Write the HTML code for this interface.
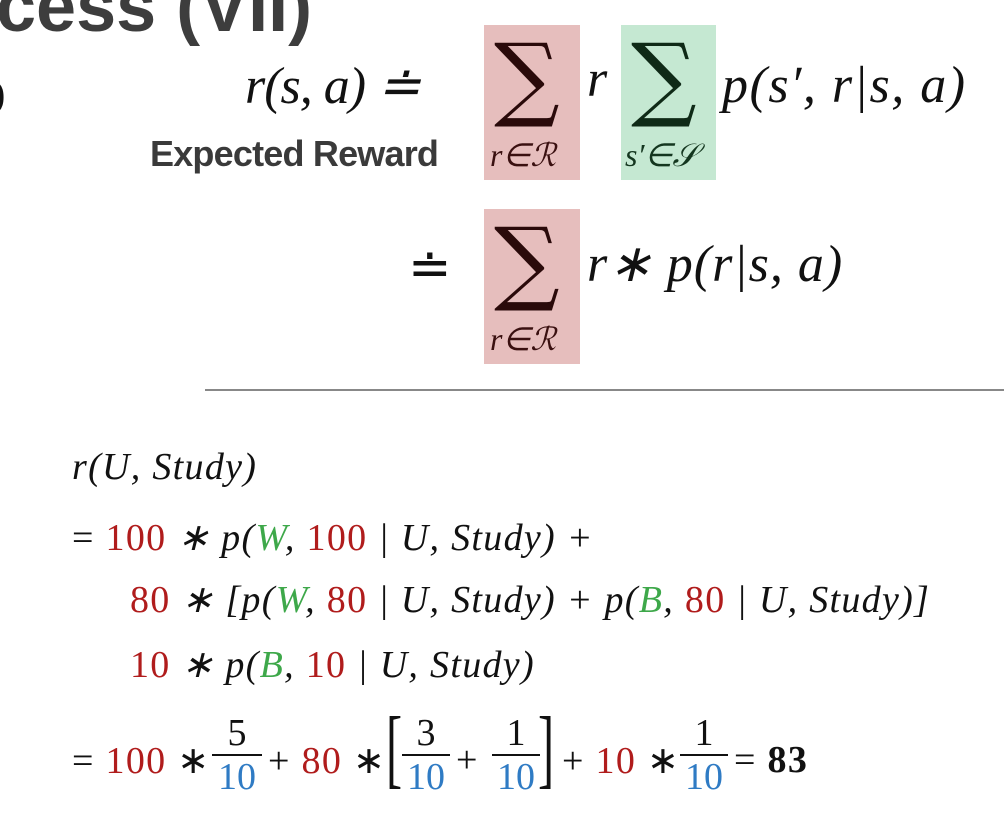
<!DOCTYPE html>
<html><head><meta charset="utf-8"><style>
body{margin:0;width:1004px;height:840px;background:#fff;position:relative;overflow:hidden;font-family:"Liberation Serif",serif;color:#111}
.a{position:absolute;white-space:nowrap}
.m{font-style:italic}
.r{color:#b01c1c;font-style:normal}
.g{color:#3ea84a}
.b{color:#2f7bc4;font-style:normal}
.box{position:absolute}
.sig{position:absolute;font-size:92px;line-height:1;font-family:"DejaVu Serif",serif;color:#2a0a0a}
.frac{position:absolute;text-align:center;font-size:38px;font-style:normal}
.frac .n{display:block;border-bottom:2px solid #111;padding:0 2px;line-height:42px}
.frac .d{display:block;line-height:42px}
.bl{letter-spacing:1.3px;font-size:38px}
</style></head><body>
<div class="a" style="left:-4px;top:-34px;font-family:'Liberation Sans',sans-serif;font-weight:bold;font-size:72px;color:#3d3d3d">cess (VII)</div>
<div class="a" style="left:-8px;top:70px;font-size:40px">)</div>

<div class="box" style="left:484px;top:25px;width:96px;height:155px;background:#e6bebd"></div>
<div class="box" style="left:621px;top:25px;width:95px;height:155px;background:#c5e8d2"></div>
<div class="box" style="left:484px;top:209px;width:96px;height:155px;background:#e6bebd"></div>

<div class="sig" style="left:494px;top:32px">∑</div>
<div class="sig" style="left:631px;top:32px;color:#0f2a17">∑</div>
<div class="sig" style="left:494px;top:216px">∑</div>

<div class="a m" style="left:245px;top:56px;font-size:52px;letter-spacing:-1px">r(s, a) ≐</div>
<div class="a m" style="left:587px;top:50px;font-size:52px">r</div>
<div class="a m" style="left:722px;top:56px;font-size:52px;letter-spacing:1.5px">p(s′, r|s, a)</div>
<div class="a" style="left:150px;top:133px;font-family:'Liberation Sans',sans-serif;font-weight:bold;font-size:36px;color:#3a3a3a;letter-spacing:-0.8px">Expected Reward</div>
<div class="a m" style="left:490px;top:136px;font-size:32px;color:#3a1010">r∈ℛ</div>
<div class="a m" style="left:625px;top:136px;font-size:32px;color:#14361f">s′∈𝒮</div>

<div class="a" style="left:408px;top:238px;font-size:52px">≐</div>
<div class="a m" style="left:587px;top:234px;font-size:52px;letter-spacing:1px">r∗ p(r|s, a)</div>
<div class="a m" style="left:490px;top:320px;font-size:32px;color:#3a1010">r∈ℛ</div>

<div class="box" style="left:205px;top:389px;width:799px;height:2px;background:#888"></div>

<div class="a m bl" style="left:72px;top:445px">r(U, Study)</div>
<div class="a m bl" style="left:72px;top:515px"><span style="font-style:normal">= </span><span class="r">100</span> ∗ p(<span class="g">W</span>, <span class="r">100</span> | U, Study) +</div>
<div class="a m bl" style="left:130px;top:577px"><span class="r">80</span> ∗ [p(<span class="g">W</span>, <span class="r">80</span> | U, Study) + p(<span class="g">B</span>, <span class="r">80</span> | U, Study)]</div>
<div class="a m bl" style="left:130px;top:642px"><span class="r">10</span> ∗ p(<span class="g">B</span>, <span class="r">10</span> | U, Study)</div>

<div class="a bl" style="left:72px;top:738px">= <span class="r">100</span> ∗</div>
<div class="frac" style="left:212px;top:712px;width:50px"><span class="n">5</span><span class="d b">10</span></div>
<div class="a bl" style="left:268px;top:738px">+ <span class="r">80</span> ∗</div>
<div class="a" style="left:386px;top:698px;font-size:88px;transform:scaleX(0.55);transform-origin:left">[</div>
<div class="frac" style="left:402px;top:712px;width:48px"><span class="n">3</span><span class="d b">10</span></div>
<div class="a bl" style="left:456px;top:738px">+</div>
<div class="frac" style="left:492px;top:712px;width:48px"><span class="n">1</span><span class="d b">10</span></div>
<div class="a" style="left:538px;top:698px;font-size:88px;transform:scaleX(0.55);transform-origin:left">]</div>
<div class="a bl" style="left:562px;top:738px">+ <span class="r">10</span> ∗</div>
<div class="frac" style="left:680px;top:712px;width:48px"><span class="n">1</span><span class="d b">10</span></div>
<div class="a bl" style="left:734px;top:738px">= <b>83</b></div>
</body></html>
